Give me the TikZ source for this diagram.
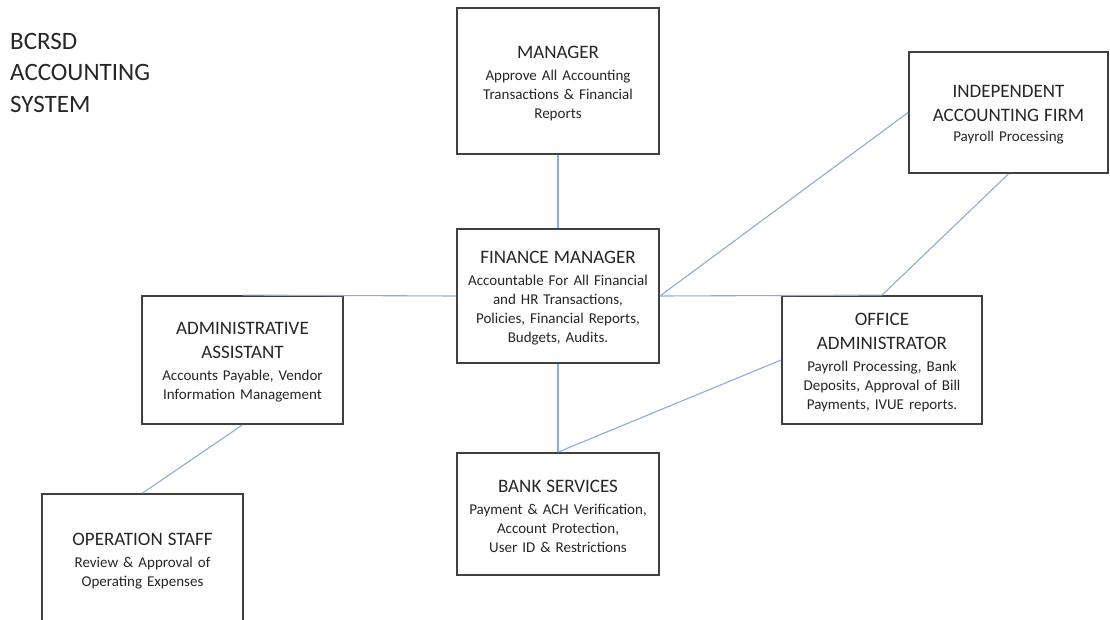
\documentclass[tikz,border=0pt]{standalone}
\usepackage{fontspec}
\setmainfont{Carlito}
\definecolor{linkblue}{HTML}{8FAADC}
\definecolor{boxline}{HTML}{404040}
\definecolor{txt}{HTML}{262626}
\newcommand{\ttl}{\fontsize{19}{24}\selectfont\rule{0pt}{17.5pt}}
\newcommand{\bdy}{\fontsize{15}{19}\selectfont}
\newcommand{\gapline}{\vspace{3pt}}
\tikzset{
  box/.style={draw=boxline, line width=1.8pt, fill=white, inner sep=0pt,
    text width=190pt, align=center, text=txt, font=\bdy},
  link/.style={draw=linkblue, line width=1.1pt}
}
\begin{document}
\begin{tikzpicture}[x=1pt,y=-1pt]
\clip (0,0) rectangle (1110,619);
\fill[white] (0,0) rectangle (1110,619);

\node[anchor=north west, inner sep=0pt, align=left, text=txt,
  font=\fontsize{25}{31.5}\selectfont] (title) at (10,33) {BCRSD\\ACCOUNTING\\SYSTEM};

\node[box, minimum width=202pt, minimum height=146pt] (manager) at (558,81)
  {{\ttl MANAGER\par}\gapline\bdy Approve All Accounting\\Transactions \& Financial\\Reports\par};

\node[box, minimum width=202pt, minimum height=134pt] (finance) at (558,296)
  {{\ttl FINANCE MANAGER\par}\gapline\bdy Accountable For All Financial\\and HR Transactions,\\Policies, Financial Reports,\\Budgets, Audits.\par};

\node[box, minimum width=202pt, minimum height=122pt] (bank) at (558,514)
  {{\ttl BANK SERVICES\par}\gapline\bdy Payment \& ACH Verification,\\Account Protection,\\User ID \& Restrictions\par};

\node[box, minimum width=201pt, minimum height=128pt] (admin) at (242.5,360)
  {{\ttl ADMINISTRATIVE\\ASSISTANT\par}\gapline\bdy Accounts Payable, Vendor\\Information Management\par};

\node[box, minimum width=200pt, minimum height=128pt] (office) at (882,360)
  {{\ttl OFFICE\\ADMINISTRATOR\par}\gapline\bdy Payroll Processing, Bank\\Deposits, Approval of Bill\\Payments, IVUE reports.\par};

\node[box, minimum width=199pt, minimum height=121pt] (firm) at (1008.5,112.5)
  {{\ttl INDEPENDENT\\ACCOUNTING FIRM\par}\vspace{1pt}\bdy Payroll Processing\par};

\node[box, minimum width=201pt, minimum height=130pt] (ops) at (142.5,559)
  {{\ttl OPERATION STAFF\par}\gapline\bdy Review \& Approval of\\Operating Expenses\par};

\draw[link] (manager.south) -- (finance.north);
\draw[link] (finance.west) -- (admin.north);
\draw[link] (finance.east) -- (office.north);
\draw[link] (finance.east) -- (firm.west);
\draw[link] (firm.south) -- (office.north);
\draw[link] (office.west) -- (bank.north);
\draw[link] (finance.south) -- (bank.north);
\draw[link] (admin.south) -- (ops.north);
\end{tikzpicture}
\end{document}
